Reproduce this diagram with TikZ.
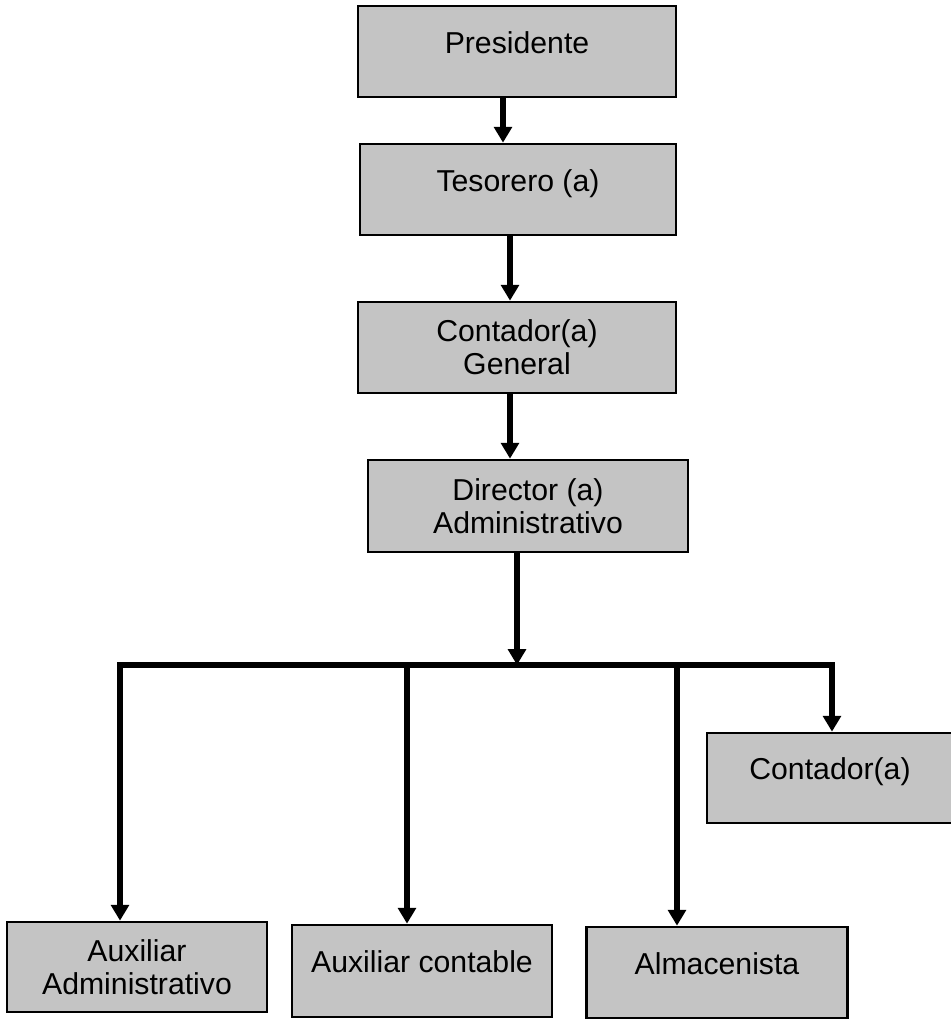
\documentclass[tikz,border=0pt]{standalone}
\usepackage{fontspec}
\setmainfont{Liberation Sans}
\usetikzlibrary{arrows.meta,positioning}

\tikzset{
  cargo/.style={draw=black, line width=1.5pt, fill=black!23, align=center,
    inner sep=0pt, minimum height=1.82cm, font=\fontsize{17.2}{18.6}\selectfont},
  unalinea/.style={text height=12.5pt, text depth=10.5pt},
  flecha/.style={line width=3.1pt, -{Triangle[length=9pt,width=10pt]}},
}

\begin{document}
\begin{tikzpicture}[x=0.02cm, y=-0.02cm]
    \useasboundingbox (0,0) rectangle (951,1019);

    % cadena de mando
    \node[cargo, unalinea, minimum width=6.36cm] (pres) at (517,51.5) {Presidente};
    \node[cargo, unalinea, minimum width=6.32cm] (teso) at (518,189.5) {Tesorero (a)};
    \node[cargo, minimum width=6.36cm] (contgen) at (517,347.5) {Contador(a)\\General};
    \node[cargo, minimum width=6.4cm, minimum height=1.84cm] (dir) at (528,506) {Director (a)\\Administrativo};

    % personal a cargo del director
    \node[cargo, unalinea, minimum width=4.92cm, minimum height=1.8cm] (cont) at (830,778) {Contador(a)};
    \node[cargo, minimum width=5.2cm, minimum height=1.8cm] (auxadm) at (137,967) {Auxiliar\\Administrativo};
    \node[cargo, unalinea, minimum width=5.2cm, minimum height=1.84cm] (auxcont) at (422,971) {Auxiliar contable};
    \node[cargo, unalinea, minimum width=5.22cm] (almac) at (717,972.5) {Almacenista};

    \draw[flecha] (503,0 |- pres.south) -- (503,0 |- teso.north);
    \draw[flecha] (510,0 |- teso.south) -- (510,0 |- contgen.north);
    \draw[flecha] (510,0 |- contgen.south) -- (510,0 |- dir.north);

    % barra de reparto
    \coordinate (bi) at (120,665);
    \coordinate (b2) at (407,665);
    \coordinate (b3) at (677,665);
    \coordinate (bd) at (832,665);
    \draw[flecha] (517,0 |- dir.south) -- (517,665);
    \draw[flecha, {Triangle[length=9pt,width=10pt]}-{Triangle[length=9pt,width=10pt]}]
        (bi |- auxadm.north) -- (bi) -- (bd) -- (bd |- cont.north);
    \draw[flecha] (b2) -- (b2 |- auxcont.north);
    \draw[flecha] (b3) -- (b3 |- almac.north);
\end{tikzpicture}
\end{document}
